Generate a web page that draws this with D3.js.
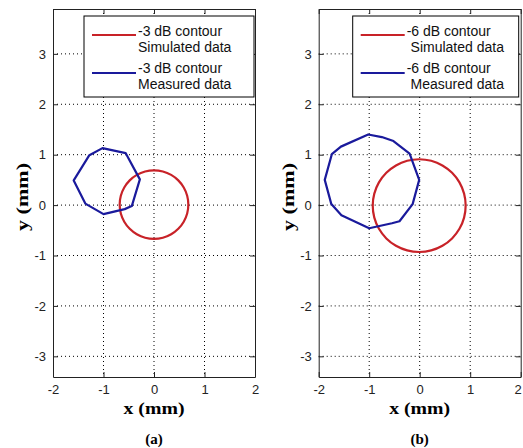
<!DOCTYPE html>
<html>
<head>
<meta charset="utf-8">
<script src="https://cdn.jsdelivr.net/npm/d3@7"></script>
<style>
  body { margin: 0; background: #fff; }
  svg { display: block; }
  .tick text { font-family: "Liberation Sans", Arial, sans-serif; font-size: 13px; fill: #222; }
  .tick line { stroke: #222; }
  .domain { stroke: #222; }
</style>
</head>
<body>
<script>
//tick values of both panels
var xTicks = [-2, -1, 0, 1, 2]
var yTicks = [-3, -2, -1, 0, 1, 2, 3]
var xGrid = [-1, 0, 1]

//-3 dB contours, panel (a)  [x, y] in mm
var simA = [[0.68,0.01],[0.657,0.186],[0.589,0.35],[0.481,0.491],[0.34,0.599],[0.176,0.667],[0,0.69],
  [-0.176,0.667],[-0.34,0.599],[-0.481,0.491],[-0.589,0.35],[-0.657,0.186],[-0.68,0.01],
  [-0.657,-0.166],[-0.589,-0.33],[-0.481,-0.471],[-0.34,-0.579],[-0.176,-0.647],[0,-0.67],
  [0.176,-0.647],[0.34,-0.579],[0.481,-0.471],[0.589,-0.33],[0.657,-0.166]]
var measA = [[-1.02,1.13],[-0.56,1.03],[-0.28,0.51],[-0.44,-0.02],[-0.58,-0.08],[-1.00,-0.18],
  [-1.36,0.03],[-1.59,0.49],[-1.28,0.99]]

//-6 dB contours, panel (b)
var simB = [[0.91,-0.01],[0.879,0.228],[0.787,0.45],[0.641,0.641],[0.45,0.787],[0.228,0.879],[-0.01,0.91],
  [-0.248,0.879],[-0.47,0.787],[-0.661,0.641],[-0.807,0.45],[-0.899,0.228],[-0.93,-0.01],
  [-0.899,-0.248],[-0.807,-0.47],[-0.661,-0.661],[-0.47,-0.807],[-0.248,-0.899],[-0.01,-0.93],
  [0.228,-0.899],[0.45,-0.807],[0.641,-0.661],[0.787,-0.47],[0.879,-0.248]]
var measB = [[-1.02,1.40],[-0.75,1.35],[-0.52,1.27],[-0.20,1.02],[-0.01,0.50],[-0.14,0.02],
  [-0.40,-0.32],[-0.55,-0.36],[-1.00,-0.46],[-1.55,-0.20],[-1.75,0.02],[-1.88,0.50],
  [-1.74,1.01],[-1.56,1.16]]

var legendA = ["-3 dB contour", "Simulated data", "-3 dB contour", "Measured data"]
var legendB = ["-6 dB contour", " Simulated data", "-6 dB contour", " Measured data"]

const w = 523
const h = 448
const red = "#c82228"
const blue = "#1a1a9c"

const svg = d3.select("body").append("svg")
  .attr("width", w)
  .attr("height", h)

function drawPanel(left, sim, meas, legend, tag, lg) {
  const right = left + 202
  const top = 9, bottom = 377

  const xScale = d3.scaleLinear().domain([-2, 2]).range([left, right])
  const yScale = d3.scaleLinear().domain([-3.41, 3.89]).range([bottom, top])

  const g = svg.append("g")
  const clipId = "clip" + tag.replace(/\W/g, "")
  g.append("clipPath").attr("id", clipId)
    .append("rect").attr("x", left).attr("y", top).attr("width", right - left).attr("height", bottom - top)

  //dotted grid
  g.selectAll(".gx").data(xGrid).enter().append("line")
    .attr("x1", d => xScale(d)).attr("x2", d => xScale(d))
    .attr("y1", top).attr("y2", bottom)
    .attr("stroke", "#000").attr("stroke-dasharray", "1,3")
  g.selectAll(".gy").data(yTicks).enter().append("line")
    .attr("y1", d => yScale(d)).attr("y2", d => yScale(d))
    .attr("x1", left).attr("x2", right)
    .attr("stroke", "#000").attr("stroke-dasharray", "1,3")

  //contours
  const smooth = d3.line().x(d => xScale(d[0])).y(d => yScale(d[1])).curve(d3.curveCatmullRomClosed)
  const poly = d3.line().x(d => xScale(d[0])).y(d => yScale(d[1])).curve(d3.curveLinearClosed)
  const curves = g.append("g").attr("clip-path", "url(#" + clipId + ")")
  curves.append("path").attr("d", smooth(sim))
    .attr("fill", "none").attr("stroke", red).attr("stroke-width", 2.2)
  curves.append("path").attr("d", poly(meas))
    .attr("fill", "none").attr("stroke", blue).attr("stroke-width", 2.2).attr("stroke-linejoin", "round")

  //axes, ticks pointing inwards like matlab
  const xAxisG = g.append("g").attr("transform", "translate(0," + bottom + ")")
    .call(d3.axisBottom(xScale).tickValues(xTicks).tickSize(-5).tickSizeOuter(0).tickPadding(8).tickFormat(d => d))
  //last label sits on the page edge in panel (b), keep it inside
  if (right > w - 10) {
    xAxisG.selectAll(".tick text").filter(d => d == 2).attr("dx", -3)
  }
  g.append("g").attr("transform", "translate(0," + top + ")")
    .call(d3.axisTop(xScale).tickValues(xTicks).tickSize(-5).tickSizeOuter(0).tickFormat(""))
  g.append("g").attr("transform", "translate(" + left + ",0)")
    .call(d3.axisLeft(yScale).tickValues(yTicks).tickSize(-5).tickSizeOuter(0).tickPadding(7).tickFormat(d => d))
  g.append("g").attr("transform", "translate(" + right + ",0)")
    .call(d3.axisRight(yScale).tickValues(yTicks).tickSize(-5).tickSizeOuter(0).tickFormat(""))

  //legend box
  const lx = lg.x, lw = lg.w
  g.append("rect").attr("x", lx).attr("y", 16).attr("width", lw).attr("height", 81)
    .attr("fill", "#fff").attr("stroke", "#000")
  g.append("line").attr("x1", lx + 8).attr("x2", lx + 8 + lg.line).attr("y1", 35).attr("y2", 35)
    .attr("stroke", red).attr("stroke-width", 2)
  g.append("line").attr("x1", lx + 8).attr("x2", lx + 8 + lg.line).attr("y1", 73).attr("y2", 73)
    .attr("stroke", blue).attr("stroke-width", 2)
  const baselines = [36, 52, 73, 89]
  g.selectAll(".lt").data(legend).enter().append("text")
    .attr("x", lx + 10 + lg.line)
    .attr("y", (d, i) => baselines[i])
    .attr("xml:space", "preserve")
    .style("white-space", "pre")
    .style("font-family", "'Liberation Sans', Arial, sans-serif")
    .attr("font-size", 14)
    .attr("fill", "#111")
    .text(d => d)

  //axis labels
  const cx = (left + right) / 2
  g.append("text").attr("x", cx).attr("y", 414)
    .attr("text-anchor", "middle")
    .style("font-family", "'Liberation Serif', 'Times New Roman', serif")
    .attr("font-weight", "bold").attr("font-size", 17)
    .attr("textLength", 61).attr("lengthAdjust", "spacingAndGlyphs")
    .text("x (mm)")
  g.append("text")
    .attr("transform", "translate(" + (left - 25) + ",197) rotate(-90)")
    .attr("text-anchor", "middle")
    .style("font-family", "'Liberation Serif', 'Times New Roman', serif")
    .attr("font-weight", "bold").attr("font-size", 17)
    .attr("textLength", 68).attr("lengthAdjust", "spacingAndGlyphs")
    .text("y (mm)")
  g.append("text").attr("x", cx).attr("y", 444)
    .attr("text-anchor", "middle")
    .style("font-family", "'Liberation Serif', 'Times New Roman', serif")
    .attr("font-weight", "bold").attr("font-size", 15)
    .text(tag)
}

drawPanel(53, simA, measA, legendA, "(a)", {x: 84, w: 170, line: 44})
drawPanel(318.7, simB, measB, legendB, "(b)", {x: 352.7, w: 166, line: 44})
</script>
</body>
</html>
